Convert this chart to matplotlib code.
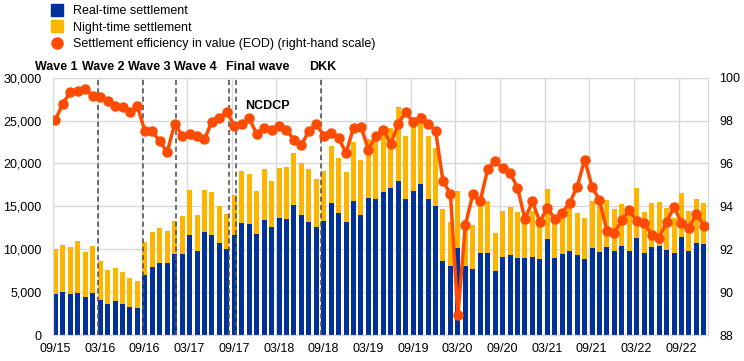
import numpy as np
import matplotlib
matplotlib.use("Agg")
from matplotlib import pyplot as plt
from matplotlib.lines import Line2D
from matplotlib.ticker import FuncFormatter

plt.rcParams['font.family'] = ['Liberation Sans', 'DejaVu Sans']
plt.rcParams['font.size'] = 9

# monthly values, 09/15 .. 12/22
real_time = [4780, 4970, 4780, 4890, 4430, 4930, 4120, 3650, 3920, 3650, 3260, 3180,
             6950, 7920, 8430, 8350, 9440, 9470, 11690, 9790, 11960, 11690, 10720, 10020,
             11690, 13050, 12970, 11800, 13440, 12620, 13670, 13550, 15110, 13980, 13200, 12540,
             13280, 15360, 14210, 13160, 15610, 13980, 16000, 15840, 16660, 17120, 17940, 15880,
             16810, 17550, 15840, 14990, 8660, 8000, 10170, 8040, 7690, 9510, 9550, 7460,
             9090, 9320, 9010, 9010, 9090, 8810, 11220, 8970, 9440, 9820, 9280, 8810,
             10100, 9710, 10250, 9800, 10410, 9790, 11340, 9510, 10290, 10410, 9940, 9590,
             11380, 9790, 10760, 10640]
night_time = [5220, 5550, 5430, 6060, 5200, 5400, 4460, 3880, 3880, 3730, 3340, 3150,
              3850, 4080, 4030, 3730, 3880, 4430, 5200, 4230, 4930, 4970, 4270, 4080,
              4610, 6090, 5790, 4980, 5940, 5360, 5780, 5980, 6130, 6060, 6100, 5630,
              5820, 6670, 6370, 5830, 6870, 6370, 6830, 6720, 7030, 6950, 8620, 7260,
              8620, 8350, 7340, 6790, 6060, 5160, 6570, 5400, 5120, 5670, 6060, 4380,
              5320, 5590, 5320, 4230, 5350, 4280, 5830, 4390, 4660, 5130, 4970, 4780,
              5470, 5320, 5520, 4840, 4890, 5080, 5750, 4820, 5130, 5080, 4890, 4080,
              5200, 4650, 5080, 4740]
efficiency = [98.04, 98.79, 99.32, 99.38, 99.46, 99.13, 99.10, 98.93, 98.68, 98.65, 98.38, 98.66,
              97.51, 97.50, 97.03, 96.52, 97.86, 97.30, 97.39, 97.30, 97.13, 97.95, 98.10, 98.42,
              97.73, 97.85, 98.10, 97.38, 97.67, 97.55, 97.73, 97.55, 97.11, 96.86, 97.51, 97.83,
              97.30, 97.40, 97.17, 96.49, 97.67, 97.70, 96.64, 97.30, 97.58, 96.89, 97.86, 98.38,
              97.92, 98.14, 97.86, 97.53, 95.18, 94.58, 88.92, 93.12, 94.56, 94.25, 95.73, 96.12,
              95.77, 95.56, 94.87, 93.40, 94.24, 93.27, 93.94, 93.40, 93.71, 94.16, 94.90, 96.18,
              94.92, 94.28, 92.85, 92.76, 93.37, 93.82, 93.30, 93.24, 92.67, 92.53, 93.26, 93.97,
              93.24, 92.98, 93.66, 93.09]
tick_labels = ['09/15', '03/16', '09/16', '03/17', '09/17', '03/18', '09/18', '03/19',
               '09/19', '03/20', '09/20', '03/21', '09/21', '03/22', '09/22']

# events (position in months from 09/15) and labels
event_pos = [-0.35, 5.75, 11.7, 16.2, 23.25, 24.25, 35.7]
event_names = ['Wave 1', 'Wave 2', 'Wave 3', 'Wave 4', 'Final wave', 'DKK']
event_text_x = [-2.72, 3.58, 9.76, 15.93, 22.9, 34.06]

blue = '#003299'
yellow = '#ffb400'
orange = '#ff4b00'
grid_c = '#d9d9d9'

x = np.arange(len(real_time))

fig = plt.figure(figsize=(7.44, 3.61), dpi=100)
ax = fig.add_axes([0.071, 0.072, 0.881, 0.713])
ax2 = ax.twinx()

ax.bar(x, real_time, width=0.67, color=blue, zorder=2)
ax.bar(x, night_time, width=0.67, bottom=real_time, color=yellow, zorder=2)

for p in event_pos:
    ax.axvline(p, color='#555555', ls=(0, (3, 2)), lw=1.2, zorder=3)

for name, tx in zip(event_names, event_text_x):
    ax.text(tx, 1.04, name, transform=ax.get_xaxis_transform(), fontsize=9,
            fontweight='bold', va='center', ha='left')
ax.text(25.46, 0.89, 'NCDCP', transform=ax.get_xaxis_transform(), fontsize=9,
        fontweight='bold', va='center', ha='left')

ax2.plot(x, efficiency, color=orange, lw=2.5, marker='o', markersize=6.5, zorder=4)

ax.set_xlim(-0.35, 87.6)
ax.set_ylim(0, 30000)
ax2.set_ylim(88, 100)
ax.set_yticks(np.arange(0, 30001, 5000))
ax2.set_yticks(np.arange(88, 101, 2))
ax.yaxis.set_major_formatter(FuncFormatter(lambda v, p: f'{int(v):,}'))

# vertical grid every six months, labels centred on it
ax.set_xticks(np.arange(0, 88, 6) - 0.35, minor=True)
ax.set_xticks(np.arange(0, 88, 6) - 0.05)
ax.set_xticklabels(tick_labels)
ax.grid(True, which='minor', axis='x', color=grid_c, lw=1, zorder=0)
ax.grid(True, which='major', axis='y', color=grid_c, lw=1, zorder=0)
ax.set_axisbelow(True)

ax.tick_params(axis='both', which='both', length=0)
ax.tick_params(axis='y', pad=8)
ax.tick_params(axis='x', pad=6)
ax2.tick_params(axis='y', length=0, pad=8)

for a in (ax, ax2):
    for s in a.spines.values():
        s.set_color(grid_c)

handles = [Line2D([], [], ls='none', marker='s', markersize=8, color=blue),
           Line2D([], [], ls='none', marker='s', markersize=8, color=yellow),
           Line2D([], [], ls='none', marker='o', markersize=8, color=orange)]
labels = ['Real-time settlement', 'Night-time settlement',
          'Settlement efficiency in value (EOD) (right-hand scale)']
fig.legend(handles, labels, loc='upper left', bbox_to_anchor=(0.061, 1.0),
           frameon=False, handlelength=1.0, handletextpad=0.8, labelspacing=0.38,
           borderaxespad=0, fontsize=9)

fig.savefig('out.png', dpi=100)
